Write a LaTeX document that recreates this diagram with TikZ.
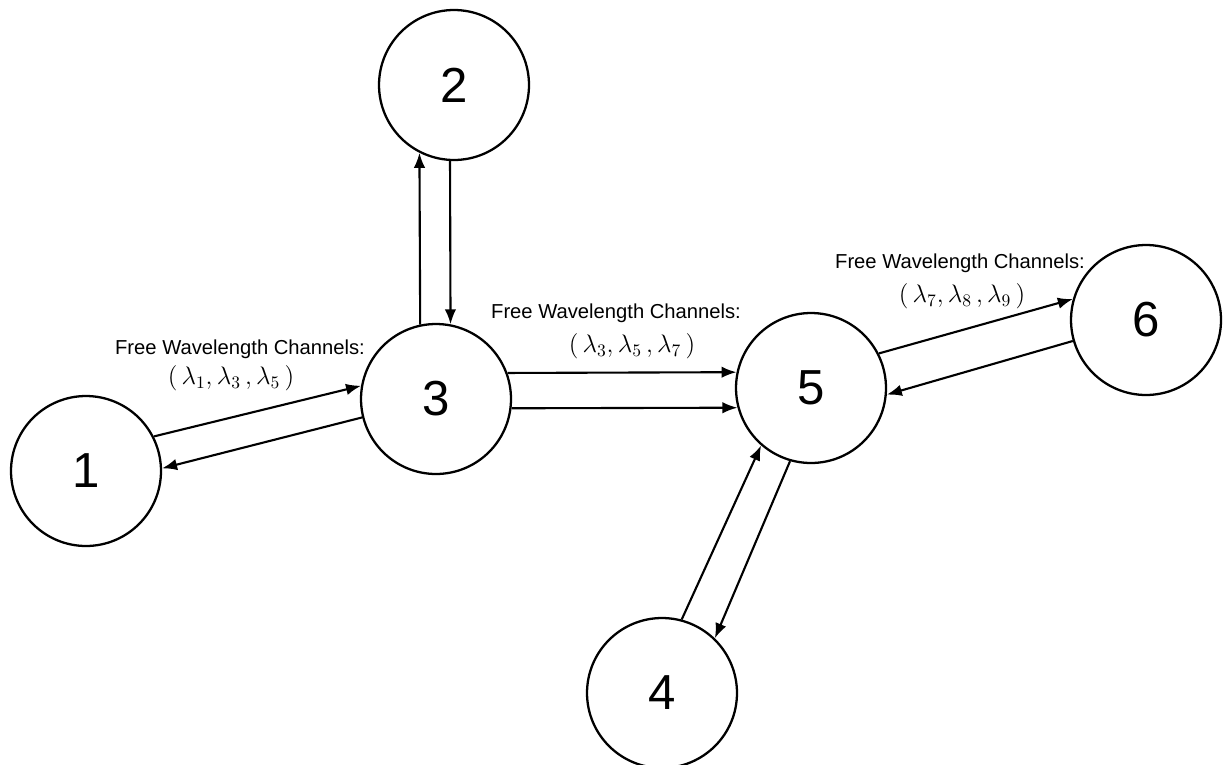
\documentclass[tikz,border=0pt]{standalone}
\usepackage{fontspec}
\setmainfont{Liberation Sans}
\usetikzlibrary{arrows.meta}

\tikzset{
    station/.style={circle, draw, line width=1.3pt, minimum size=3cm, inner sep=0pt, fill=white,
        font=\fontsize{28}{30}\selectfont},
    link/.style={line width=1.2pt, -{Latex[length=3mm, width=2.3mm]}},
    caption/.style={inner sep=0pt, font=\fontsize{11.5}{13}\selectfont},
    channels/.style={inner sep=0pt, font=\fontsize{14.5}{16}\selectfont}
}

\begin{document}
\begin{tikzpicture}[x=0.02cm, y=-0.02cm]
    \useasboundingbox (0,0) rectangle (1223,764);

    % Draw the six stations
    \foreach \i/\x/\y in {1/86/471, 2/454/85, 3/436/399, 4/662/693, 5/811/388, 6/1146/320}
        \node[station] (N\i) at (\x,\y) {\i};

    % Connect the stations, one line for each direction
    \draw[link] (N1.27) -- (N3.170);
    \draw[link] (N3.194) -- (N1.2);
    \draw[link] (N3.102) -- (N2.243);
    \draw[link] (N2.267) -- (N3.79);
    \draw[link] (N3.20) -- (N5.168);
    \draw[link] (N3.353) -- (N5.195);
    \draw[link] (N5.27) -- (N6.164);
    \draw[link] (N6.196) -- (N5.355);
    \draw[link] (N4.75) -- (N5.229);
    \draw[link] (N5.254) -- (N4.46);

    % Label the free channels on the links
    \node[caption] (T13) at (240,349) {Free Wavelength Channels:};
    \node[channels] (W13) at (231,378) {$(\,\lambda_1, \lambda_3\,, \lambda_5\,)$};
    \node[caption] (T35) at (616,313) {Free Wavelength Channels:};
    \node[channels] (W35) at (632,346) {$(\,\lambda_3, \lambda_5\,, \lambda_7\,)$};
    \node[caption] (T56) at (960,263) {Free Wavelength Channels:};
    \node[channels] (W56) at (962,296) {$(\,\lambda_7, \lambda_8\,, \lambda_9\,)$};
\end{tikzpicture}
\end{document}
